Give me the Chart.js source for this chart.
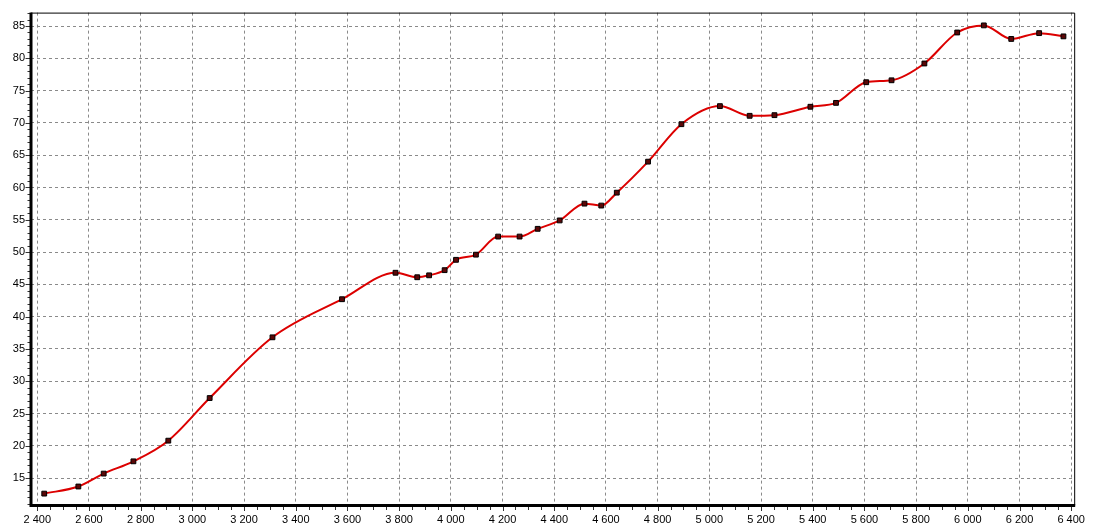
<!DOCTYPE html>
<html>
<head>
<meta charset="utf-8">
<script src="https://cdn.jsdelivr.net/npm/chart.js@4.4.1/dist/chart.umd.min.js"></script>
<style>
  html, body { margin: 0; padding: 0; background: #fff; }
  #wrap { width: 1093px; height: 530px; }
</style>
</head>
<body>
<div id="wrap"><canvas id="c" width="1093" height="530"></canvas></div>
<script>
// ---- data ----
const rpm = [2427, 2559, 2657, 2772, 2907, 3067, 3310, 3579, 3786, 3870, 3916, 3976, 4020, 4097,
             4183, 4266, 4336, 4421, 4517, 4582, 4642, 4763, 4892, 5041, 5156, 5252, 5391, 5490,
             5607, 5705, 5832, 5959, 6062, 6168, 6276, 6370];
const values = [12.6, 13.7, 15.7, 17.6, 20.8, 27.4, 36.8, 42.7, 46.8, 46.1, 46.4, 47.2, 48.8, 49.6,
                52.4, 52.4, 53.6, 54.9, 57.5, 57.2, 59.2, 64.0, 69.8, 72.6, 71.1, 71.2, 72.5, 73.1,
                76.3, 76.6, 79.2, 84.0, 85.1, 83.0, 83.9, 83.4];
const xTicks = [2400, 2600, 2800, 3000, 3200, 3400, 3600, 3800, 4000, 4200, 4400, 4600, 4800,
                5000, 5200, 5400, 5600, 5800, 6000, 6200, 6400];
const yTicks = [15, 20, 25, 30, 35, 40, 45, 50, 55, 60, 65, 70, 75, 80, 85];

const points = rpm.map((x, i) => ({ x: x, y: values[i] }));
const fmt = v => String(v).replace(/\B(?=(\d{3})+(?!\d))/g, ' ');

const framePlugin = {
  id: 'frame',
  afterDraw(chart) {
    const { ctx, chartArea: a, scales } = chart;
    const xs = scales.x, ys = scales.y;
    ctx.save();
    ctx.strokeStyle = '#000';
    ctx.lineWidth = 1;
    ctx.beginPath();
    ctx.moveTo(a.left, a.top + 0.5);
    ctx.lineTo(a.right + 0.5, a.top + 0.5);
    ctx.lineTo(a.right + 0.5, a.bottom);
    ctx.stroke();
    ctx.strokeStyle = '#333';
    ctx.beginPath();
    for (let v = 2400; v <= 6400; v += 50) {
      const px = Math.round(xs.getPixelForValue(v)) + 0.5;
      const len = (v % 200 === 0) ? 4 : 3;
      ctx.moveTo(px, a.bottom);
      ctx.lineTo(px, a.bottom + 1.5 + len);
    }
    ctx.stroke();
    ctx.beginPath();
    for (let v = 11; v <= 87; v += 1) {
      const py = Math.round(ys.getPixelForValue(v)) + 0.5;
      const len = (v % 5 === 0) ? 4 : 2;
      ctx.moveTo(a.left, py);
      ctx.lineTo(a.left - 1.5 - len, py);
    }
    ctx.stroke();
    ctx.strokeStyle = '#000';
    ctx.lineWidth = 3;
    ctx.beginPath();
    ctx.moveTo(a.left, a.top);
    ctx.lineTo(a.left, a.bottom);
    ctx.lineTo(a.right + 1, a.bottom);
    ctx.stroke();
    ctx.restore();
  }
};

const tickFont = { family: 'Liberation Sans, Arial, sans-serif', size: 11 };

new Chart(document.getElementById('c'), {
  type: 'line',
  data: {
    datasets: [{
      data: points,
      borderColor: 'rgb(220,0,0)',
      borderWidth: 2,
      cubicInterpolationMode: 'monotone',
      pointStyle: 'rect',
      pointRadius: 3.4,
      pointBackgroundColor: '#5a0808',
      pointBorderColor: '#000',
      pointBorderWidth: 1,
      fill: false
    }]
  },
  options: {
    responsive: false,
    animation: false,
    devicePixelRatio: 1,
    layout: { padding: { top: 10, right: 10.5, left: 0, bottom: 0 } },
    plugins: { legend: { display: false }, tooltip: { enabled: false } },
    scales: {
      x: {
        type: 'linear',
        min: 2375.8,
        max: 6411.5,
        afterFit(s) { s.height = 24.5; },
        afterBuildTicks(s) { s.ticks = xTicks.map(v => ({ value: v })); },
        ticks: {
          includeBounds: false,
          maxRotation: 0,
          autoSkip: false,
          padding: 8,
          color: '#000',
          font: tickFont,
          callback: v => fmt(v)
        },
        grid: { color: '#8a8a8a', lineWidth: 1, drawTicks: false },
        border: { display: false, dash: [3, 3] }
      },
      y: {
        type: 'linear',
        min: 10.76,
        max: 87.08,
        afterFit(s) { s.width = 31; },
        afterBuildTicks(s) { s.ticks = yTicks.map(v => ({ value: v })); },
        ticks: {
          includeBounds: false,
          autoSkip: false,
          padding: 6,
          color: '#000',
          font: tickFont,
          callback: v => fmt(v)
        },
        grid: { color: '#8a8a8a', lineWidth: 1, drawTicks: false },
        border: { display: false, dash: [3, 3] }
      }
    }
  },
  plugins: [framePlugin]
});
</script>
</body>
</html>
